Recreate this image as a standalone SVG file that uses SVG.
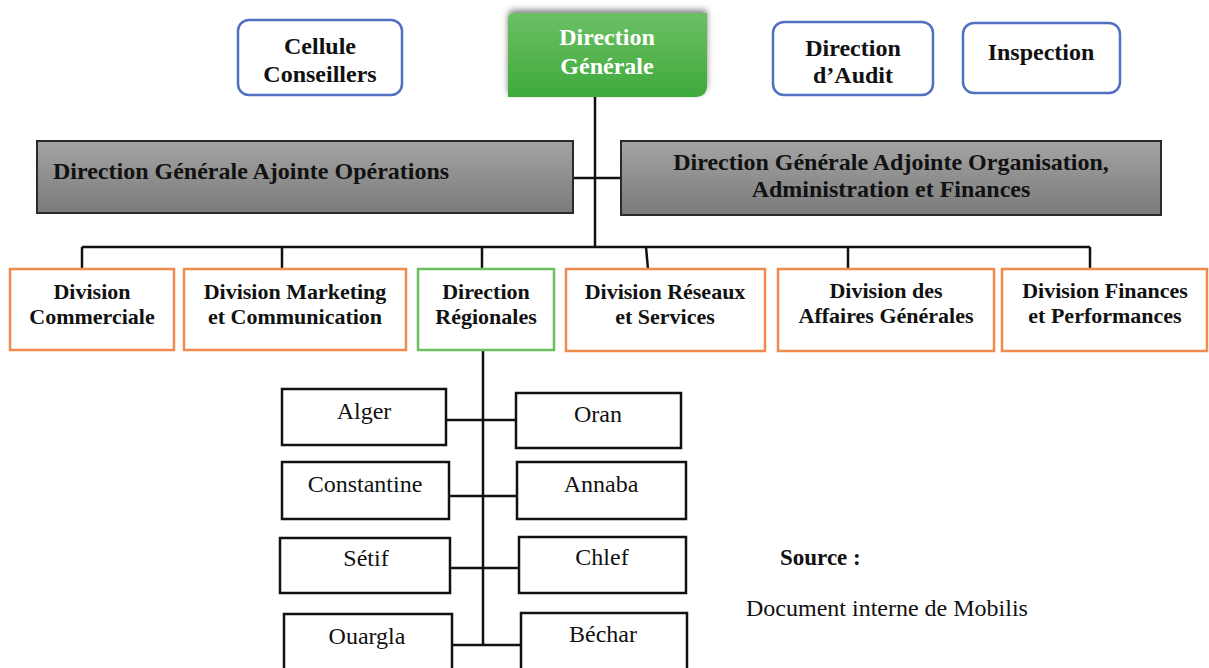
<svg xmlns="http://www.w3.org/2000/svg" width="1209" height="668" viewBox="0 0 1209 668">
<defs>
<linearGradient id="gGreen" x1="0" y1="0" x2="0" y2="1"><stop offset="0" stop-color="#6cc064"/><stop offset="1" stop-color="#3fa93c"/></linearGradient>
<linearGradient id="gGray" x1="0" y1="0" x2="0" y2="1"><stop offset="0" stop-color="#a4a4a4"/><stop offset="1" stop-color="#7a7a7a"/></linearGradient>
<filter id="sh" x="-10%" y="-20%" width="120%" height="140%"><feGaussianBlur in="SourceAlpha" stdDeviation="3"/><feOffset dx="0" dy="-3"/><feComponentTransfer><feFuncA type="linear" slope="0.5"/></feComponentTransfer><feMerge><feMergeNode/><feMergeNode in="SourceGraphic"/></feMerge></filter>
</defs>
<style>
text{font-family:'Liberation Serif','Times New Roman','DejaVu Serif',serif;fill:#111}
.b{font-weight:bold;font-size:24px;text-anchor:middle}
.d{font-weight:bold;font-size:22px;text-anchor:middle}
.c{font-size:24px;text-anchor:middle}
.blue{fill:#fff;stroke:#5270c2;stroke-width:2.5}
.gray{fill:url(#gGray);stroke:#2a2a2a;stroke-width:2}
.org{fill:#fff;stroke:#ef8b4e;stroke-width:2.5}
.grn{fill:#fff;stroke:#6cbf60;stroke-width:2.5}
.city{fill:#fff;stroke:#111;stroke-width:2.5}
.ln{stroke:#111;stroke-width:2.5;fill:none}
</style>
<rect width="1209" height="668" fill="#fff"/>
<g id="connectors">
<line class="ln" x1="595" y1="97" x2="595" y2="247"/>
<line class="ln" x1="573" y1="178" x2="621" y2="178"/>
<line class="ln" x1="82" y1="247" x2="1090" y2="247"/>
<line class="ln" x1="82" y1="247" x2="82" y2="269"/>
<line class="ln" x1="282" y1="247" x2="282" y2="269"/>
<line class="ln" x1="482" y1="247" x2="482" y2="269"/>
<line class="ln" x1="646" y1="247" x2="648" y2="269"/>
<line class="ln" x1="848" y1="247" x2="848" y2="269"/>
<line class="ln" x1="1090" y1="247" x2="1090" y2="269"/>
<line class="ln" x1="483" y1="350" x2="483" y2="645"/>
<line class="ln" x1="446" y1="420" x2="516" y2="420"/>
<line class="ln" x1="449" y1="496" x2="517" y2="496"/>
<line class="ln" x1="450" y1="568" x2="519" y2="568"/>
<line class="ln" x1="452" y1="645" x2="521" y2="645"/>
</g>
<g id="cellule"><rect class="blue" x="238" y="20" width="164" height="75" rx="11"/><text class="b" x="320" y="54">Cellule</text><text class="b" x="320" y="82">Conseillers</text></g>
<g id="dg"><path filter="url(#sh)" fill="url(#gGreen)" d="M514 13 H707 V85 Q707 97 695 97 H508 V19 Q508 13 514 13 Z"/><text class="b" x="607" y="45" style="fill:#fff">Direction</text><text class="b" x="607" y="74" style="fill:#fff">Générale</text></g>
<g id="audit"><rect class="blue" x="773" y="22" width="160" height="73" rx="11"/><text class="b" x="853" y="56">Direction</text><text class="b" x="853" y="83">d’Audit</text></g>
<g id="inspection"><rect class="blue" x="963" y="23" width="157" height="70" rx="11"/><text class="b" x="1041" y="60">Inspection</text></g>
<g id="dga-op"><rect class="gray" x="37" y="141" width="536" height="72"/><text class="b" x="53" y="179" style="text-anchor:start">Direction Générale Ajointe Opérations</text></g>
<g id="dga-oaf"><rect class="gray" x="621" y="141" width="540" height="74"/><text class="b" x="891" y="170">Direction Générale Adjointe Organisation,</text><text class="b" x="891" y="197">Administration et Finances</text></g>
<g id="div-com"><rect class="org" x="10" y="269" width="164" height="81"/><text class="d" x="92" y="299">Division</text><text class="d" x="92" y="324">Commerciale</text></g>
<g id="div-mkt"><rect class="org" x="184" y="269" width="222" height="81"/><text class="d" x="295" y="299">Division Marketing</text><text class="d" x="295" y="324">et Communication</text></g>
<g id="dir-reg"><rect class="grn" x="418" y="269" width="136" height="81"/><text class="d" x="486" y="299">Direction</text><text class="d" x="486" y="324">Régionales</text></g>
<g id="div-res"><rect class="org" x="566" y="269" width="199" height="82"/><text class="d" x="665" y="299">Division Réseaux</text><text class="d" x="665" y="324">et Services</text></g>
<g id="div-ag"><rect class="org" x="778" y="269" width="216" height="82"/><text class="d" x="886" y="298">Division des</text><text class="d" x="886" y="323">Affaires Générales</text></g>
<g id="div-fin"><rect class="org" x="1002" y="269" width="205" height="82"/><text class="d" x="1105" y="298">Division Finances</text><text class="d" x="1105" y="323">et Performances</text></g>
<g id="alger"><rect class="city" x="282" y="389" width="164" height="56"/><text class="c" x="364" y="419">Alger</text></g>
<g id="oran"><rect class="city" x="516" y="393" width="165" height="55"/><text class="c" x="598" y="422">Oran</text></g>
<g id="constantine"><rect class="city" x="282" y="462" width="167" height="57"/><text class="c" x="365" y="492">Constantine</text></g>
<g id="annaba"><rect class="city" x="517" y="462" width="169" height="57"/><text class="c" x="601" y="492">Annaba</text></g>
<g id="setif"><rect class="city" x="280" y="538" width="170" height="55"/><text class="c" x="366" y="566">Sétif</text></g>
<g id="chlef"><rect class="city" x="519" y="537" width="167" height="56"/><text class="c" x="602" y="565">Chlef</text></g>
<g id="ouargla"><rect class="city" x="284" y="614" width="168" height="60"/><text class="c" x="367" y="644">Ouargla</text></g>
<g id="bechar"><rect class="city" x="521" y="613" width="166" height="61"/><text class="c" x="603" y="642">Béchar</text></g>
<g id="source"><text x="780" y="565" style="font-weight:bold;font-size:23px">Source :</text><text x="746" y="616" style="font-size:24px">Document interne de Mobilis</text></g>
</svg>
